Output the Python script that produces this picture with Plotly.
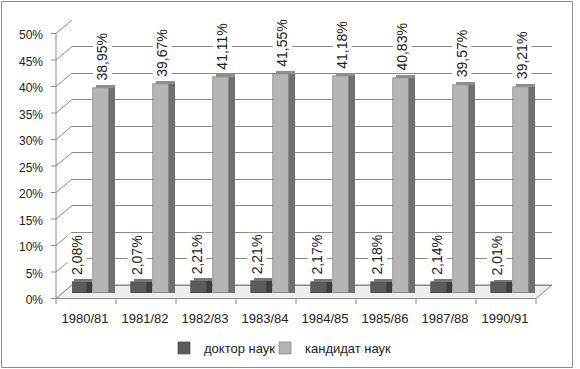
import plotly.graph_objects as go

# ---- data ----
categories = ["1980/81", "1981/82", "1982/83", "1983/84", "1984/85", "1985/86", "1987/88", "1990/91"]
doktor = [2.08, 2.07, 2.21, 2.21, 2.17, 2.18, 2.14, 2.01]
kandidat = [38.95, 39.67, 41.11, 41.55, 41.18, 40.83, 39.57, 39.21]
y_ticks = [0, 5, 10, 15, 20, 25, 30, 35, 40, 45, 50]
series_names = ["доктор наук", "кандидат наук"]

W, H = 580, 369
PL, PR, PT, PB = 72, 552, 19, 293          # plot area (pixels)
CAT = (PR - PL) / len(categories)           # px per category
FONT = "Liberation Sans"
TXT = "#222222"


def px(x):
    return (x - PL) / (PR - PL)


def py(y):
    return (PB - y) / (PB - PT)


def lab(v):
    return f"{v:.2f}".replace(".", ",") + "%"


fig = go.Figure()

# bar faces: side (dark, full width), front (narrower), top (thin)
def add_bar(vals, name, off_px, front_w, side_w, c_front, c_side, c_top, legend):
    u = 1 / CAT
    fig.add_trace(go.Bar(x=categories, y=vals, offset=off_px * u, width=(front_w + side_w) * u,
                         marker=dict(color=c_side, line=dict(width=0)), showlegend=False,
                         hoverinfo="skip", yaxis="y"))
    fig.add_trace(go.Bar(x=categories, y=vals, offset=off_px * u, width=front_w * u,
                         name=name, marker=dict(color=c_front, line=dict(width=0.6, color=c_side)),
                         showlegend=True, legend=legend, yaxis="y"))
    fig.add_trace(go.Bar(x=categories, y=[0.55] * len(vals), base=vals, offset=(off_px + 3) * u,
                         width=(front_w + side_w - 3) * u,
                         marker=dict(color=c_top, line=dict(width=0)), showlegend=False,
                         hoverinfo="skip", yaxis="y"))


add_bar(doktor, series_names[0], -21, 16, 5, "#5c5c5c", "#3f3f3f", "#777777", "legend")
add_bar(kandidat, series_names[1], 1, 16, 6, "#b5b5b5", "#707070", "#8e8e8e", "legend2")

# invisible trace to activate y2 gridline axis
fig.add_trace(go.Scatter(x=[categories[0]], y=[0], yaxis="y2", mode="markers",
                         marker=dict(opacity=0), showlegend=False, hoverinfo="skip"))

ann = []
for c, d, k in zip(categories, doktor, kandidat):
    ann.append(dict(x=c, y=d, xref="x", yref="y", text=lab(d), textangle=-90, showarrow=False,
                    xanchor="center", yanchor="bottom", xshift=-15, yshift=5, bgcolor="white",
                    font=dict(family=FONT, size=14, color=TXT), borderpad=1))
    ann.append(dict(x=c, y=k, xref="x", yref="y", text=lab(k), textangle=-90, showarrow=False,
                    xanchor="center", yanchor="bottom", xshift=10, yshift=5, bgcolor="white",
                    font=dict(family=FONT, size=14, color=TXT), borderpad=1))

# 3D frame decoration (pixel -> paper)
GRID = "#8a8a8a"
shapes = []
BACK0, SCALE, FRONT_DY = 285, 5.3, 13.5
shapes.append(dict(type="line", xref="paper", yref="paper", x0=px(56), x1=px(56),
                   y0=py(BACK0 + FRONT_DY), y1=py(BACK0 + FRONT_DY - 50 * SCALE),
                   line=dict(color=GRID, width=1), layer="below"))
for v in y_ticks:
    by = BACK0 - v * SCALE
    fy = by + FRONT_DY
    shapes.append(dict(type="line", xref="paper", yref="paper", x0=px(56), x1=px(72),
                       y0=py(fy), y1=py(by), line=dict(color=GRID, width=1), layer="below"))
    shapes.append(dict(type="line", xref="paper", yref="paper", x0=px(51), x1=px(56),
                       y0=py(fy), y1=py(fy), line=dict(color=GRID, width=1), layer="below"))
fl = [(56, 298.5), (536, 298.5), (552, 285), (72, 285)]
path = "M " + " L ".join(f"{px(a)} {py(b)}" for a, b in fl) + " Z"
shapes.append(dict(type="path", xref="paper", yref="paper", path=path,
                   fillcolor="#eeeeee", line=dict(color=GRID, width=1), layer="below"))
for i in range(len(categories) + 1):
    xx = 56 + i * CAT
    shapes.append(dict(type="line", xref="paper", yref="paper", x0=px(xx), x1=px(xx),
                       y0=py(298.5), y1=py(304), line=dict(color=GRID, width=1)))
shapes.append(dict(type="rect", xref="paper", yref="paper", x0=px(1.5), x1=px(572.5),
                   y0=py(367.5), y1=py(1.5), line=dict(color="#8c8c8c", width=1)))

leg_common = dict(orientation="h", xanchor="left", y=py(333), yanchor="top",
                  font=dict(family=FONT, size=13, color=TXT), itemwidth=30,
                  bgcolor="rgba(0,0,0,0)")

fig.update_layout(
    width=W, height=H,
    margin=dict(l=PL, r=W - PR, t=PT, b=H - PB, pad=0, autoexpand=False),
    paper_bgcolor="white", plot_bgcolor="white",
    barmode="overlay", bargap=0,
    font=dict(family=FONT, size=13, color=TXT),
    xaxis=dict(type="category", categoryorder="array", categoryarray=categories,
               range=[-0.5 + (PL - 62) / CAT, len(categories) - 0.5 + (PL - 62) / CAT],
               showgrid=False, zeroline=False, showline=False, ticks="", automargin=False,
               ticklabelshift=-7, ticklabelstandoff=16,
               tickfont=dict(family=FONT, size=13, color=TXT)),
    yaxis=dict(range=[0, (PB - PT) / 5.263], showgrid=False, zeroline=False, automargin=False,
               showticklabels=False, showline=False, ticks=""),
    yaxis2=dict(overlaying="y", side="left", automargin=False,
                range=[-(PB - BACK0) / SCALE, 50 + (BACK0 - 50 * SCALE - PT) / SCALE],
                tickvals=y_ticks, ticktext=[f"{v}%" for v in y_ticks],
                showgrid=True, gridcolor=GRID, gridwidth=1, zeroline=False, showline=False,
                ticks="", ticklabelshift=15, ticklabelstandoff=28,
                tickfont=dict(family=FONT, size=12, color=TXT), layer="below traces"),
    legend=dict(x=px(164), **leg_common),
    legend2=dict(x=px(265), **leg_common),
    annotations=ann, shapes=shapes,
)

fig.write_html("out.html", config={"displayModeBar": False},
               post_script="document.body.style.margin='0px';")
